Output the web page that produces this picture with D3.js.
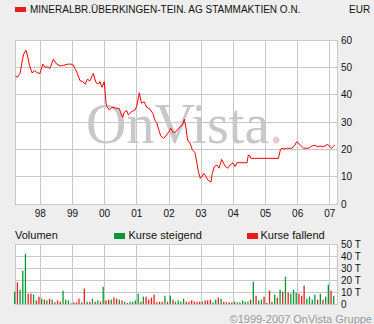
<!DOCTYPE html>
<html>
<head>
<meta charset="utf-8">
<script src="https://cdn.jsdelivr.net/npm/d3@7"></script>
<style>
  body { margin: 0; background: #eeeeee; }
  text { font-family: "Liberation Sans", Arial, sans-serif; }
</style>
</head>
<body>
<div class="chart"></div>
<script>
var width = 374,
    height = 324;

// price line (EUR)
var priceDates = ["1997-03-24","1997-04-15","1997-05-15","1997-06-15","1997-06-29","1997-07-22","1997-08-06","1997-08-29",
  "1997-09-28","1997-10-29","1997-11-27","1997-12-28","1998-01-28","1998-02-23","1998-03-20","1998-04-20","1998-05-28",
  "1998-07-05","1998-08-12","1998-09-18","1998-11-14","1999-01-03","1999-01-29","1999-02-25","1999-03-27","1999-04-27",
  "1999-05-26","1999-06-18","1999-07-18","1999-08-25","1999-09-25","1999-10-25","1999-11-09","1999-12-02","1999-12-28",
  "2000-01-16","2000-01-31","2000-02-23","2000-03-24","2000-05-01","2000-06-16","2000-07-01","2000-07-24","2000-08-08",
  "2000-09-08","2000-09-26","2000-11-03","2000-12-11","2000-12-31","2001-01-29","2001-02-21","2001-03-24","2001-04-23",
  "2001-05-23","2001-07-01","2001-07-27","2001-08-15","2001-09-07","2001-09-29","2001-10-29","2001-11-28","2001-12-24",
  "2002-01-21","2002-02-13","2002-03-10","2002-04-05","2002-05-06","2002-06-05","2002-06-24","2002-07-16","2002-08-01",
  "2002-08-31","2002-09-23","2002-10-23","2002-11-15","2002-11-30","2002-12-23","2003-01-14","2003-01-30","2003-02-22",
  "2003-03-16","2003-04-23","2003-05-08","2003-05-31","2003-06-30","2003-07-23","2003-08-22","2003-09-29","2003-10-29",
  "2003-11-27","2003-12-28","2004-01-20","2004-02-12","2004-06-05","2004-06-20","2004-07-09","2004-07-20","2005-05-27",
  "2005-06-19","2005-07-04","2005-07-30","2005-08-30","2005-10-26","2005-11-24","2005-12-22","2006-01-17","2006-03-11",
  "2006-05-02","2006-06-10","2006-07-17","2006-08-17","2006-09-15","2006-10-16","2006-12-08","2006-12-31","2007-01-23",
  "2007-02-15","2007-03-01"];
var priceValues = [46.8,46.4,47.8,53.3,55.1,56.3,54.5,50.9,
  48.0,48.8,48.0,47.8,51.2,50.0,50.2,49.6,53.0,
  51.2,50.5,50.7,51.2,51.1,49.6,47.8,45.1,44.8,
  43.9,45.6,45.1,47.8,44.4,43.9,44.8,42.7,44.8,
  37.1,35.4,34.4,35.4,35.1,34.9,33.4,31.7,33.4,
  34.2,32.6,33.8,34.4,35.9,40.7,36.9,37.4,35.4,
  34.9,33.2,30.5,29.8,27.1,24.9,24.1,24.9,26.1,
  27.7,26.3,26.1,27.1,28.3,28.9,31.0,27.1,23.4,
  22.0,19.8,18.8,14.9,11.8,9.4,10.2,11.2,10.2,
  8.8,8.0,11.2,13.7,14.3,13.1,16.3,13.9,13.1,
  14.3,15.1,13.7,15.1,15.1,17.9,17.6,16.7,16.7,
  19.8,20.4,20.1,20.4,20.4,21.2,22.8,22.0,20.4,
  20.4,21.2,21.5,20.9,21.2,20.9,21.8,21.0,20.4,
  21.2,21.6];

// monthly volume (thousands), first month March 1997; 1 = Kurse steigend, 0 = Kurse fallend
var volStart = "1997-03";
var volValues = [10.3,18,11.9,27.7,41.9,8.6,8.6,7.8,3,6.1,
  4.4,3.6,3,4.4,3.6,1.4,3,1.9,11.1,3.6,3,0.6,
  1.4,1.4,4.4,1.4,12.8,1.9,1.9,4.4,1.9,3,1.9,14.4,
  3,3.6,3.6,5.3,4.4,3.6,3,1.9,0.8,1.9,1.9,3,
  8.6,1.9,6.1,6.1,3.6,5.3,7.8,1.4,1.9,1.9,6.9,1.9,
  6.9,3.6,1.9,3,1.9,4.4,1.9,1.9,3,1.9,1.9,1.9,
  1.9,3,3,3.6,1.4,3.6,5.3,4.4,1.9,1.4,1.4,1.4,
  1.9,1.4,1.4,3,1.9,1.9,3.6,18.6,6.9,3,3.6,6.1,
  1.0,11.1,1.9,7.8,5.3,11.9,10.3,22.8,9.4,8.6,11.9,9.4,
  8.6,6.9,15.3,4.4,6.1,3.6,7.8,3.6,8.6,3.6,6.1,16.1,
  11.1,6.9];
var volUp = [1,0,1,1,1,0,0,1,0,0,
  1,0,1,0,1,0,0,0,1,1,1,1,
  0,0,0,1,0,1,0,1,0,1,0,1,
  0,0,1,0,0,1,0,1,0,1,1,1,
  1,0,1,0,0,0,0,0,0,0,1,0,
  1,0,1,1,1,1,0,0,0,0,0,0,
  1,0,0,0,1,1,0,1,0,0,0,1,
  0,1,1,1,1,1,0,1,0,1,1,0,
  1,0,1,1,0,1,0,1,0,1,1,1,
  0,0,0,1,1,1,1,0,1,0,1,1,
  0,1];

var priceTicks = [0, 10, 20, 30, 40, 50, 60];
var volTicks = [0, 10, 20, 30, 40, 50];

var parseDay = d3.timeParse("%Y-%m-%d"),
    parseMonth = d3.timeParse("%Y-%m");

var price = priceDates.map((d, i) => ({ date: parseDay(d), value: priceValues[i] }));
var m0 = parseMonth(volStart);
var vol = volValues.map((v, i) => ({
  date: d3.timeDay.offset(d3.timeMonth.offset(m0, i), 14),
  value: v,
  up: volUp[i] === 1
}));

var svg = d3.select(".chart").append("svg")
    .attr("width", width)
    .attr("height", height);

svg.append("rect").attr("width", width).attr("height", height).style("fill", "#eeeeee");

var left = 15, right = 337;
var x = d3.scaleTime()
    .domain([new Date(1997, 2, 19), new Date(2007, 2, 24)])
    .range([left, right]);
var y = d3.scaleLinear().domain([0, 60]).range([204, 40]);
var yv = d3.scaleLinear().domain([0, 50]).range([304, 244]);

var years = x.ticks(d3.timeYear.every(1));

// title
svg.append("rect").attr("x", 15).attr("y", 7).attr("width", 11).attr("height", 5).style("fill", "#e81c1c");
svg.append("text").attr("x", 30).attr("y", 12.5)
    .style("font-size", "10px").style("fill", "#111")
    .text("MINERALBR.ÜBERKINGEN-TEIN. AG STAMMAKTIEN O.N.");
svg.append("text").attr("x", 349).attr("y", 12.5)
    .style("font-size", "10px").style("fill", "#111")
    .text("EUR");

// price panel
svg.append("rect").attr("x", left).attr("y", 40).attr("width", right - left).attr("height", 164)
    .style("fill", "white");

var wm = svg.append("text").attr("x", 86).attr("y", 143)
    .style("font-family", "'Liberation Serif', 'DejaVu Serif', serif")
    .style("font-size", "56px").style("fill", "#c8c8c8");
wm.append("tspan").text("OnVista");
wm.append("tspan").style("fill", "#f0c6c9").text(".");

var grid = svg.append("g").style("stroke", "#c8c8c8").style("stroke-width", 1).style("shape-rendering", "crispEdges");
grid.selectAll(".gx").data(years).enter().append("line")
    .attr("x1", d => x(d)).attr("x2", d => x(d)).attr("y1", 40).attr("y2", 204);
grid.selectAll(".gy").data(priceTicks).enter().append("line")
    .attr("x1", left).attr("x2", right).attr("y1", d => y(d)).attr("y2", d => y(d));
grid.append("rect").attr("x", left).attr("y", 40).attr("width", right - left).attr("height", 164)
    .style("fill", "none");

svg.append("path").datum(price)
    .attr("d", d3.line().x(d => x(d.date)).y(d => y(d.value)))
    .style("fill", "none").style("stroke", "#ff0000").style("stroke-width", 1);

svg.selectAll(".py").data(priceTicks).enter().append("text")
    .attr("x", 341).attr("y", d => y(d) + 3.5)
    .style("font-size", "10px").style("fill", "#111")
    .text(d => d);

svg.selectAll(".px").data(years).enter().append("text")
    .attr("x", d => x(d)).attr("y", 217)
    .attr("text-anchor", "middle")
    .style("font-size", "10px").style("fill", "#111")
    .text(d => d3.timeFormat("%y")(d));

// volume header
svg.append("text").attr("x", 15).attr("y", 239).style("font-size", "11px").style("fill", "#111").text("Volumen");
svg.append("rect").attr("x", 114).attr("y", 233).attr("width", 11).attr("height", 6).style("fill", "#009933");
svg.append("text").attr("x", 128.5).attr("y", 239).style("font-size", "11px").style("fill", "#111").text("Kurse steigend");
svg.append("rect").attr("x", 247).attr("y", 233).attr("width", 11).attr("height", 6).style("fill", "#e81c1c");
svg.append("text").attr("x", 260.5).attr("y", 239).style("font-size", "11px").style("fill", "#111").text("Kurse fallend");

// volume panel
svg.append("rect").attr("x", left).attr("y", 244).attr("width", right - left).attr("height", 60)
    .style("fill", "white");
var vgrid = svg.append("g").style("stroke", "#c8c8c8").style("stroke-width", 1).style("shape-rendering", "crispEdges");
vgrid.selectAll(".gx").data(years).enter().append("line")
    .attr("x1", d => x(d)).attr("x2", d => x(d)).attr("y1", 244).attr("y2", 304);
vgrid.selectAll(".gy").data(volTicks).enter().append("line")
    .attr("x1", left).attr("x2", right).attr("y1", d => yv(d)).attr("y2", d => yv(d));
vgrid.append("rect").attr("x", left).attr("y", 244).attr("width", right - left).attr("height", 60)
    .style("fill", "none");

svg.selectAll(".bar").data(vol).enter().append("rect")
    .attr("x", d => x(d.date) - 0.6)
    .attr("y", d => yv(d.value))
    .attr("width", 1.3)
    .attr("height", d => yv(0) - yv(d.value))
    .style("fill", d => d.up ? "#009933" : "#e81c1c");

svg.selectAll(".vy").data(volTicks).enter().append("text")
    .attr("x", 341).attr("y", d => yv(d) + 3.5)
    .style("font-size", "10px").style("fill", "#111")
    .text(d => d === 0 ? "0" : d + " T");

svg.append("text").attr("x", 372).attr("y", 323)
    .attr("text-anchor", "end")
    .style("font-size", "11px").style("fill", "#9a9a9a")
    .text("©1999-2007 OnVista Gruppe");
</script>
</body>
</html>
